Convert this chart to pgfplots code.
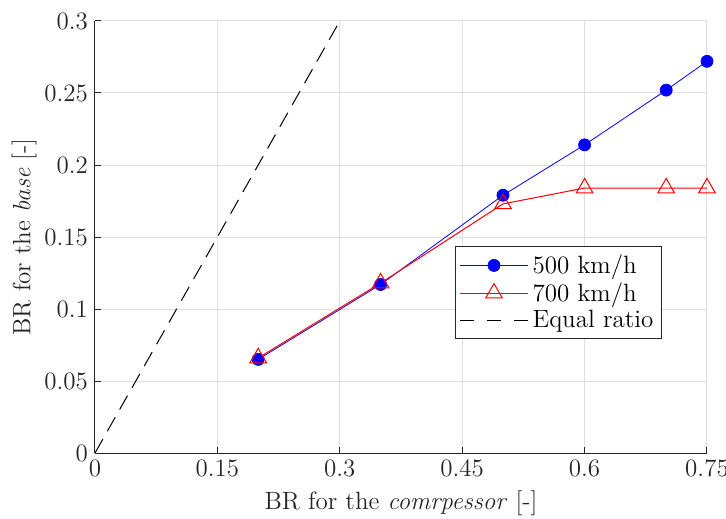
\documentclass[border=0pt]{standalone}
\usepackage{pgfplots}
\pgfplotsset{compat=1.18}
\definecolor{axgray}{RGB}{38,38,38}
\definecolor{gridgray}{RGB}{223,223,223}
\pgfplotsset{dashleg/.style={legend image code/.code={\draw[##1, dash pattern=on 7pt off 6.5pt] (0cm,0cm) -- (1.2cm,0cm);}}}
\begin{document}
\begin{tikzpicture}
\begin{axis}[
  scale only axis,
  width=306pt, height=216pt,
  xmin=0, xmax=0.75, ymin=0, ymax=0.3,
  axis x line*=bottom, axis y line*=left,
  xtick={0,0.15,0.3,0.45,0.6,0.75},
  ytick={0,0.05,0.1,0.15,0.2,0.25,0.3},
  xticklabels={0,0.15,0.3,0.45,0.6,0.75},
  yticklabels={0,0.05,0.1,0.15,0.2,0.25,0.3},
  tick align=inside,
  major tick length=3pt,
  grid=major,
  grid style={gridgray, line width=0.5pt},
  axis line style={axgray, line width=0.5pt, -},
  tick style={axgray, line width=0.5pt},
  tick label style={text=axgray, font=\fontsize{12.5}{14}\selectfont},
  label style={text=axgray, font=\fontsize{12.5}{14}\selectfont},
  xlabel={BR for the \textit{comrpessor} [-]},
  ylabel={BR for the \textit{base} [-]},
  ylabel shift=-3pt,
  legend style={at={(0.588,0.479)}, anchor=north west, draw=axgray, line width=0.5pt, font=\fontsize{12.5}{14}\selectfont, row sep=-1pt, inner sep=2pt},
  legend cell align=left,
  legend image code/.code={\draw[mark repeat=2,mark phase=2,#1] plot coordinates {(0cm,0cm)(0.6cm,0cm)(1.2cm,0cm)};},
]
\addplot[blue, line width=0.4pt, mark=*, mark size=3pt, mark options={fill=blue, draw=blue}]
  coordinates {(0.2,0.065) (0.35,0.117) (0.5,0.179) (0.6,0.214) (0.7,0.252) (0.75,0.272)};
\addlegendentry{500 km/h}
\addplot[red, line width=0.5pt, mark=triangle, mark size=4.8pt, mark options={draw=red, fill=none, solid}]
  coordinates {(0.2,0.066) (0.35,0.118) (0.5,0.173) (0.6,0.184) (0.7,0.184) (0.75,0.184)};
\addlegendentry{700 km/h}
\addplot[black, line width=0.5pt, dash pattern=on 8pt off 4.5pt, dashleg]
  coordinates {(0,0) (0.3,0.3)};
\addlegendentry{Equal ratio}
\end{axis}
\pgfresetboundingbox
\path ([xshift=-47.5pt,yshift=-32.5pt]current axis.south west) rectangle ([xshift=9.5pt,yshift=10.5pt]current axis.north east);
\end{tikzpicture}
\end{document}
